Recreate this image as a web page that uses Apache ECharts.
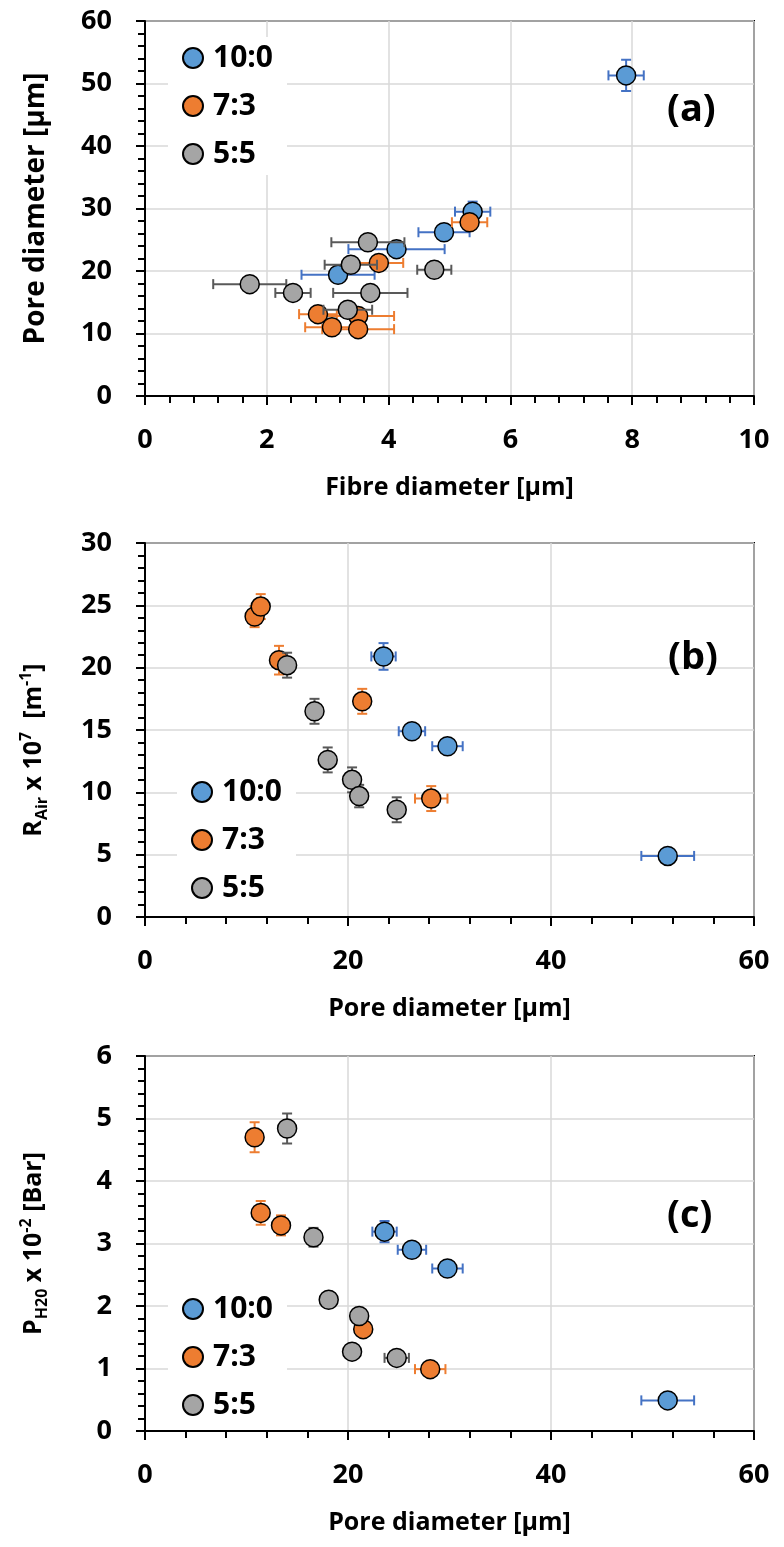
<!DOCTYPE html>
<html>
<head>
<meta charset="utf-8">
<script src="https://cdn.jsdelivr.net/npm/echarts@6/dist/echarts.min.js"></script>
<style>
  html, body { margin: 0; padding: 0; background: #fff; }
  #chart { width: 784px; height: 1547px; }
</style>
</head>
<body>
<div id="chart"></div>
<script>
// ratios (legend names)
const groups = ['10:0', '7:3', '5:5']

// panel (a): [fibre diameter, pore diameter, fibre err, pore err]
const fibrePore_100 = [[7.9, 51.3, 0.29, 2.5], [5.38, 29.5, 0.29, 1.6], [4.91, 26.2, 0.42, 0], [4.13, 23.5, 0.79, 0], [3.17, 19.4, 0.6, 0]]
const fibrePore_73 = [[5.33, 27.8, 0.29, 0], [3.84, 21.3, 0.4, 0], [2.84, 13.1, 0.31, 0], [3.5, 12.8, 0.59, 0], [3.07, 11.0, 0.44, 0], [3.5, 10.7, 0.59, 0]]
const fibrePore_55 = [[3.66, 24.6, 0.6, 0], [3.38, 21.0, 0.43, 0], [4.75, 20.2, 0.28, 0], [1.72, 17.9, 0.6, 0], [2.43, 16.5, 0.29, 0], [3.7, 16.5, 0.61, 0], [3.33, 13.8, 0.4, 0]]

// panel (b): [pore diameter, R_air x 1e7, pore err, R err]
const poreRair_100 = [[23.5, 20.9, 1.2, 1.07], [26.3, 14.9, 1.3, 0.3], [29.8, 13.7, 1.5, 0.3], [51.5, 4.9, 2.6, 0.2]]
const poreRair_73 = [[10.8, 24.1, 0, 0.85], [11.4, 24.9, 0, 1.0], [13.2, 20.6, 0, 1.15], [21.4, 17.3, 0.7, 1.0], [28.2, 9.5, 1.6, 1.0]]
const poreRair_55 = [[14.0, 20.2, 0, 1.0], [16.7, 16.5, 0, 1.0], [18.0, 12.6, 0, 1.0], [20.4, 11.0, 0, 1.0], [21.1, 9.7, 0, 0.9], [24.8, 8.6, 0, 1.0]]

// panel (c): [pore diameter, P_H2O x 1e-2, pore err, P err]
const porePh2o_100 = [[23.6, 3.19, 1.2, 0.17], [26.3, 2.9, 1.4, 0.05], [29.8, 2.6, 1.5, 0.08], [51.5, 0.49, 2.6, 0]]
const porePh2o_73 = [[10.8, 4.7, 0, 0.24], [11.4, 3.49, 0, 0.19], [13.4, 3.29, 0, 0.16], [21.5, 1.63, 0.6, 0], [28.1, 0.99, 1.5, 0]]
const porePh2o_55 = [[14.0, 4.84, 0, 0.24], [16.6, 3.1, 0, 0.15], [18.1, 2.1, 0, 0], [21.1, 1.84, 0, 0], [20.4, 1.27, 0, 0], [24.8, 1.17, 1.2, 0]]

const fillColors = ['#5B9BD5', '#ED7D31', '#A5A5A5']
const barColors = ['#4472C4', '#ED7D31', '#595959']
const font = 'Open Sans'

const panels = [
  { data: [fibrePore_100, fibrePore_73, fibrePore_55] },
  { data: [poreRair_100, poreRair_73, poreRair_55] },
  { data: [porePh2o_100, porePh2o_73, porePh2o_55] }
]

function errorBars(color) {
  return function(params, api) {
    const x = api.value(0)
    const y = api.value(1)
    const ex = api.value(2)
    const ey = api.value(3)
    const cap = 5
    const style = { stroke: color, lineWidth: 2 }
    const children = []
    const seg = (x1, y1, x2, y2) => children.push({ type: 'line', shape: { x1, y1, x2, y2 }, style })
    if (ex > 0) {
      const l = api.coord([x - ex, y])
      const r = api.coord([x + ex, y])
      seg(l[0], l[1], r[0], r[1])
      seg(l[0], l[1] - cap, l[0], l[1] + cap)
      seg(r[0], r[1] - cap, r[0], r[1] + cap)
    }
    if (ey > 0) {
      const b = api.coord([x, y - ey])
      const t = api.coord([x, y + ey])
      seg(b[0], b[1], t[0], t[1])
      seg(b[0] - cap, b[1], b[0] + cap, b[1])
      seg(t[0] - cap, t[1], t[0] + cap, t[1])
    }
    return { type: 'group', children }
  }
}

const gridTops = [21, 543, 1056]
const gridHeights = [375, 374, 375]

const labelStyle = { color: '#000', fontFamily: font, fontWeight: 'bold', fontSize: 27 }
const nameStyle = { color: '#000', fontFamily: font, fontWeight: 'bold', fontSize: 25 }

function xAxisOf(i, max, interval, name) {
  return {
    gridIndex: i,
    type: 'value',
    min: 0,
    max: max,
    interval: interval,
    name: name,
    nameLocation: 'middle',
    nameGap: 79,
    nameTextStyle: nameStyle,
    axisLine: { lineStyle: { color: '#000', width: 2 } },
    axisTick: { length: 9, lineStyle: { color: '#000', width: 2 } },
    minorTick: { show: true, splitNumber: 5, length: 7, lineStyle: { color: '#000', width: 2 } },
    axisLabel: Object.assign({ margin: 31 }, labelStyle),
    splitLine: { lineStyle: { color: '#D9D9D9', width: 1.5 } }
  }
}

function yAxisOf(i, max, interval, name, textStyle) {
  return {
    gridIndex: i,
    type: 'value',
    min: 0,
    max: max,
    interval: interval,
    name: name,
    nameLocation: 'middle',
    nameGap: 95,
    nameTextStyle: Object.assign({}, nameStyle, textStyle),
    axisLine: { lineStyle: { color: '#000', width: 2 } },
    axisTick: { length: 9, lineStyle: { color: '#000', width: 2 } },
    minorTick: { show: true, splitNumber: 5, length: 7, lineStyle: { color: '#000', width: 2 } },
    axisLabel: Object.assign({ margin: 33 }, labelStyle),
    splitLine: { lineStyle: { color: '#D9D9D9', width: 1.5 } }
  }
}

const richName = {
  n: { fontFamily: font, fontWeight: 'bold', fontSize: 25, lineHeight: 32, color: '#000' },
  s: { fontFamily: font, fontWeight: 'bold', fontSize: 16, lineHeight: 16, verticalAlign: 'bottom', color: '#000' },
  p: { fontFamily: font, fontWeight: 'bold', fontSize: 16, lineHeight: 16, verticalAlign: 'top', color: '#000' }
}

const series = []
panels.forEach((p, i) => {
  p.data.forEach((d, k) => {
    series.push({
      name: 'err' + i + k,
      type: 'custom',
      xAxisIndex: i,
      yAxisIndex: i,
      renderItem: errorBars(barColors[k]),
      encode: { x: 0, y: 1 },
      data: d,
      z: 2 + k * 2,
      silent: true
    })
    series.push({
      name: groups[k],
      type: 'scatter',
      xAxisIndex: i,
      yAxisIndex: i,
      symbolSize: 19,
      itemStyle: { color: fillColors[k], borderColor: '#000', borderWidth: 1.5, opacity: 1 },
      data: d.map(r => [r[0], r[1]]),
      z: 3 + k * 2
    })
  })
})

function legendAt(left, top) {
  return {
    data: groups,
    orient: 'vertical',
    left: left,
    top: top,
    padding: [6, 14, 6, 14],
    itemGap: 18,
    itemWidth: 20,
    itemHeight: 20,
    backgroundColor: '#fff',
    selectedMode: false,
    textStyle: { fontFamily: font, fontWeight: 'bold', fontSize: 30, lineHeight: 30, color: '#000', padding: [0, 0, 0, 5] },
    z: 10
  }
}

function panelTag(text, left, top) {
  return {
    text: text,
    left: left,
    top: top,
    textStyle: { fontFamily: font, fontWeight: 'bold', fontSize: 38, color: '#000' }
  }
}

const chart = echarts.init(document.getElementById('chart'))
chart.setOption({
  animation: false,
  backgroundColor: '#fff',
  title: [panelTag('(a)', 662, 86), panelTag('(b)', 663, 634), panelTag('(c)', 662, 1192)],
  legend: [legendAt(168, 37), legendAt(177, 771), legendAt(168, 1288)],
  grid: gridTops.map((t, i) => ({
    left: 145, top: t, width: 609, height: gridHeights[i],
    show: true, borderColor: '#000', borderWidth: 2
  })),
  xAxis: [
    xAxisOf(0, 10, 2, 'Fibre diameter [\u03bcm]'),
    xAxisOf(1, 60, 20, 'Pore diameter [\u03bcm]'),
    xAxisOf(2, 60, 20, 'Pore diameter [\u03bcm]')
  ],
  yAxis: [
    yAxisOf(0, 60, 10, 'Pore diameter [\u03bcm]', { fontSize: 28 }),
    yAxisOf(1, 30, 5, '{n|R}{s|Air}{n| x 10}{p|7}{n|  [m}{p|-1}{n|]}', { rich: richName, padding: [0, 40, 0, 0] }),
    yAxisOf(2, 6, 1, '{n|P}{s|H20}{n| x 10}{p|-2}{n| [Bar]}', { rich: richName })
  ],
  series: series
})
</script>
</body>
</html>
